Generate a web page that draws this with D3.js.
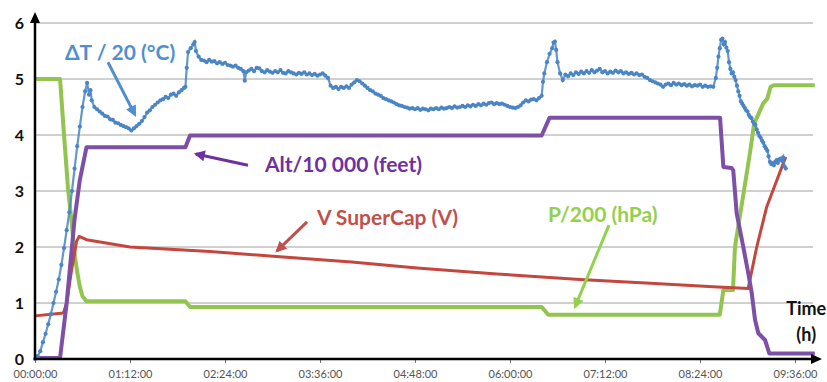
<!DOCTYPE html>
<html>
<head>
<meta charset="utf-8">
<script src="https://cdn.jsdelivr.net/npm/d3@7"></script>
<style>
  html, body { margin: 0; padding: 0; background: #fff; }
  svg { display: block; }
</style>
</head>
<body>
<svg id="chart" width="827" height="382"></svg>
<script>
// ---------- DATA (time in minutes since 00:00:00) ----------
const tickMinutes = [0, 72, 144, 216, 288, 360, 432, 504, 576];
const tickLabels = ["00:00:00","01:12:00","02:24:00","03:36:00","04:48:00","06:00:00","07:12:00","08:24:00","09:36:00"];
const yTicks = [0, 1, 2, 3, 4, 5, 6];

// Alt / 10 000 (feet)
const altSeries = [[0,0.02],[19,0.02],[24,1.0],[30,2.5],[34,3.2],[39,3.78],[114,3.78],[117.5,3.99],[384,3.99],[390,4.31],
  [519.2,4.31],[521.7,3.43],[528,3.41],[529.2,3.37],[531.8,2.6],[536.8,2.0],[540.6,1.53],[543.2,1.18],[545.7,0.70],
  [548.2,0.46],[553.3,0.34],[556.5,0.10],[591,0.10]];

// P / 200 (hPa)
const presSeries = [[0,5.0],[19,5.0],[22,4.0],[25,3.05],[27.5,2.5],[30.3,1.83],[32,1.55],[34,1.29],[36,1.12],[39,1.03],
  [114,1.03],[117.5,0.93],[384,0.93],[389,0.79],[519,0.79],[521.7,1.23],[529,1.23],[530.5,2.0],[537,2.96],[542,3.7],
  [545,4.2],[548,4.36],[552,4.57],[555,4.65],[557.5,4.86],[560,4.89],[591,4.89]];

// V SuperCap (V)
const capSeries = [[0,0.77],[21.5,0.82],[24,1.0],[27.8,1.6],[31.5,2.1],[33.5,2.19],[39,2.13],[72,2.0],[132.6,1.92],
  [183,1.83],[240,1.73],[277,1.65],[292,1.62],[350,1.52],[413,1.42],[470,1.35],[514,1.29],[540.5,1.26],[547,2.0],
  [554.6,2.72],[564.6,3.34],[569,3.61]];

// ΔT / 20 (°C)
const dtSeries = [[0,0.00],[2,0.05],[4,0.14],[6,0.30],[8,0.45],[10,0.62],[12,0.80],[14,1.00],[16,1.20],[18,1.42],
  [20,1.68],[22,1.98],[24,2.30],[26,2.62],[28,3.00],[30,3.40],[32,3.80],[34,4.15],[36,4.50],[38,4.78],[39.5,4.93],
  [41,4.72],[42,4.80],[43,4.62],[45,4.50],[47,4.46],[49,4.42],[51,4.38],[53,4.34],[55,4.33],[57,4.28],[59,4.27],
  [61,4.22],[63,4.21],[65,4.18],[67,4.16],[69,4.14],[71,4.12],[73,4.08],[75,4.12],[77,4.16],[79,4.20],[81,4.25],
  [83,4.32],[85,4.40],[87,4.44],[89,4.50],[91,4.54],[93,4.58],[95,4.62],[97,4.64],[99,4.68],[101,4.66],[103,4.72],
  [105,4.74],[107,4.70],[109,4.76],[111,4.80],[113,4.84],[114,4.86],[115,5.20],[116,5.48],[118,5.55],[120,5.62],
  [121,5.66],[122,5.50],[124,5.40],[126,5.34],[128,5.33],[130,5.30],[132,5.34],[134,5.31],[136,5.32],[138,5.28],
  [140,5.30],[142,5.27],[144,5.29],[146,5.25],[148,5.24],[150,5.22],[152,5.24],[154,5.20],[156,5.18],[158,5.14],
  [159,4.97],[160,5.12],[162,5.15],[164,5.18],[166,5.14],[168,5.20],[170,5.19],[172,5.14],[174,5.12],[176,5.16],
  [178,5.13],[180,5.11],[182,5.14],[184,5.12],[186,5.16],[188,5.11],[190,5.10],[192,5.14],[194,5.12],[196,5.10],
  [198,5.08],[200,5.11],[202,5.09],[204,5.12],[206,5.08],[208,5.10],[210,5.07],[212,5.09],[214,5.06],[216,5.08],
  [218,5.10],[220,5.06],[222,5.02],[224,4.88],[226,4.84],[228,4.86],[230,4.82],[232,4.86],[234,4.84],[236,4.87],
  [238,4.84],[240,4.90],[242,4.94],[244,4.98],[246,4.96],[248,4.92],[250,4.88],[252,4.84],[254,4.80],[256,4.78],
  [258,4.74],[260,4.72],[262,4.70],[264,4.66],[266,4.64],[268,4.62],[270,4.60],[272,4.58],[274,4.55],[276,4.53],
  [278,4.52],[280,4.50],[282,4.49],[284,4.47],[286,4.48],[288,4.46],[290,4.48],[292,4.45],[294,4.47],[296,4.46],
  [298,4.44],[300,4.47],[302,4.46],[304,4.48],[306,4.46],[308,4.49],[310,4.47],[312,4.48],[314,4.50],[316,4.48],
  [318,4.51],[320,4.49],[322,4.50],[324,4.52],[326,4.50],[328,4.53],[330,4.51],[332,4.54],[334,4.52],[336,4.55],
  [338,4.53],[340,4.56],[342,4.54],[344,4.57],[346,4.58],[348,4.55],[350,4.57],[352,4.55],[354,4.56],[356,4.54],
  [358,4.52],[360,4.50],[362,4.49],[364,4.48],[366,4.50],[368,4.53],[370,4.58],[372,4.62],[374,4.60],[376,4.63],
  [378,4.64],[380,4.62],[382,4.66],[384,4.70],[385,4.95],[386,5.10],[388,5.30],[390,5.45],[392,5.55],[393,5.65],
  [394,5.67],[395,5.52],[396,5.30],[398,5.10],[400,4.98],[402,5.08],[404,5.05],[406,5.10],[408,5.07],[410,5.12],
  [412,5.09],[414,5.13],[416,5.10],[418,5.14],[420,5.11],[422,5.16],[424,5.12],[426,5.15],[428,5.18],[430,5.12],
  [432,5.14],[434,5.10],[436,5.13],[438,5.11],[440,5.15],[442,5.12],[444,5.14],[446,5.10],[448,5.12],[450,5.09],
  [452,5.11],[454,5.08],[456,5.10],[458,5.07],[460,5.08],[462,5.04],[464,5.02],[466,4.98],[468,4.96],[470,4.94],
  [472,4.92],[474,4.90],[476,4.86],[478,4.90],[480,4.92],[482,4.89],[484,4.93],[486,4.90],[488,4.92],[490,4.89],
  [492,4.91],[494,4.88],[496,4.90],[498,4.87],[500,4.89],[502,4.88],[504,4.90],[506,4.86],[508,4.88],[510,4.86],
  [512,4.87],[514,4.86],[516,5.02],[517,5.20],[518,5.40],[519,5.55],[520,5.70],[521,5.72],[522,5.62],[523,5.66],
  [524,5.56],[525,5.50],[526,5.30],[527,5.18],[528,5.10],[529,5.12],[530,5.04],[531,4.98],[532,4.88],[533,4.78],
  [534,4.70],[535,4.60],[536,4.56],[537,4.52],[538,4.48],[539,4.44],[540,4.42],[541,4.36],[542,4.32],[543,4.30],
  [544,4.24],[545,4.20],[546,4.18],[547,4.10],[548,4.04],[549,3.98],[550,3.95],[551,3.90],[552,3.86],[553,3.80],
  [554,3.76],[555,3.72],[556,3.62],[557,3.52],[558,3.48],[559,3.50],[560,3.46],[561,3.52],[562,3.55],[563,3.50],
  [564,3.56],[565,3.58],[566,3.54],[567,3.60],[568,3.44],[569,3.40]];

// annotations: [label, textT, textV, arrowFromT, arrowFromV, arrowToT, arrowToV, colour]
const annotations = [
  ["ΔT / 20 (°C)", 22.7, 5.34, 55.3, 5.30, 75.8, 4.36, "#4f8fd0"],
  ["Alt/10 000 (feet)", 174.3, 3.345, 161.4, 3.46, 122, 3.66, "#7030a0"],
  ["V SuperCap (V)", 213.7, 2.39, 206.2, 2.45, 183.4, 1.93, "#c0504d"],
  ["P/200 (hPa)", 388.8, 2.45, 435, 2.39, 409.3, 0.93, "#92d050"]
];

// ---------- CHART ----------
const svg = d3.select("#chart");
const font = "Lato, 'Open Sans', sans-serif";
const x = d3.scaleLinear().domain([0, 576]).range([35, 795]);
const y = d3.scaleLinear().domain([0, 6]).range([359, 23]);

// gridlines
svg.append("g").selectAll("line").data(yTicks.filter(d => d > 0)).join("line")
  .attr("x1", x(0)).attr("x2", 813)
  .attr("y1", d => y(d)).attr("y2", d => y(d))
  .attr("stroke", "#c0c0c0").attr("stroke-width", 1.5);

// y tick labels
svg.append("g").selectAll("text").data(yTicks).join("text")
  .attr("x", 24).attr("y", d => y(d)).attr("dy", "0.36em")
  .attr("text-anchor", "end")
  .attr("font-family", font).attr("font-weight", "bold").attr("font-size", 16)
  .attr("fill", "#111").text(d => d);

// x axis with ticks
const xAxis = d3.axisBottom(x).tickValues(tickMinutes)
  .tickFormat((d, i) => tickLabels[i]).tickSize(4).tickSizeOuter(0);
const gx = svg.append("g").attr("transform", `translate(0,${y(0)})`).call(xAxis);
gx.select(".domain").remove();
gx.selectAll(".tick line").attr("stroke", "#777").attr("stroke-width", 1);
gx.selectAll(".tick text").attr("font-family", font).attr("font-size", 11)
  .attr("fill", "#555").attr("y", 11);

const line = d3.line().x(d => x(d[0])).y(d => y(d[1]));

// series
svg.append("path").datum(presSeries).attr("d", line)
  .attr("fill", "none").attr("stroke", "#92c450").attr("stroke-width", 4).attr("stroke-linejoin", "round");
svg.append("path").datum(capSeries).attr("d", line)
  .attr("fill", "none").attr("stroke", "#c4463f").attr("stroke-width", 3).attr("stroke-linejoin", "round");
svg.append("path").datum(altSeries).attr("d", line)
  .attr("fill", "none").attr("stroke", "#7d4fa6").attr("stroke-width", 4).attr("stroke-linejoin", "round");
svg.append("path").datum(dtSeries).attr("d", line)
  .attr("fill", "none").attr("stroke", "#4a85c5").attr("stroke-width", 2.2).attr("stroke-opacity", 0.85);
svg.append("g").selectAll("circle").data(dtSeries).join("circle")
  .attr("cx", d => x(d[0])).attr("cy", d => y(d[1])).attr("r", 2.1)
  .attr("fill", "#4a85c5");

// axes lines with arrows
svg.append("line").attr("x1", x(0)).attr("x2", x(0)).attr("y1", y(0) + 1).attr("y2", 20)
  .attr("stroke", "#000").attr("stroke-width", 2.5);
svg.append("path").attr("d", `M${x(0)},12 L${x(0) - 5},23 L${x(0) + 5},23 Z`).attr("fill", "#000");
svg.append("line").attr("x1", x(0) - 1).attr("x2", 814).attr("y1", y(0)).attr("y2", y(0))
  .attr("stroke", "#000").attr("stroke-width", 2.5);
svg.append("path").attr("d", `M822,${y(0)} L811,${y(0) - 5} L811,${y(0) + 5} Z`).attr("fill", "#000");

// annotations
const defs = svg.append("defs");
annotations.forEach((a, i) => {
  const id = "arr" + i;
  defs.append("marker").attr("id", id).attr("viewBox", "0 0 10 10")
    .attr("refX", 8).attr("refY", 5).attr("markerUnits", "userSpaceOnUse")
    .attr("markerWidth", 12).attr("markerHeight", 11).attr("orient", "auto")
    .append("path").attr("d", "M0,0 L10,5 L0,10 z").attr("fill", a[7]);
  svg.append("line")
    .attr("x1", x(a[3])).attr("y1", y(a[4])).attr("x2", x(a[5])).attr("y2", y(a[6]))
    .attr("stroke", a[7]).attr("stroke-width", 3).attr("marker-end", `url(#${id})`);
  svg.append("text").attr("x", x(a[1])).attr("y", y(a[2]))
    .attr("font-family", font).attr("font-weight", "bold").attr("font-size", 21)
    .attr("fill", a[7]).text(a[0]);
});

// Time (h)
svg.append("text").attr("x", x(584.5)).attr("y", y(0.79)).attr("text-anchor", "middle")
  .attr("font-family", font).attr("font-weight", "bold").attr("font-size", 18).attr("fill", "#111").text("Time");
svg.append("text").attr("x", x(584.5)).attr("y", y(0.32)).attr("text-anchor", "middle")
  .attr("font-family", font).attr("font-weight", "bold").attr("font-size", 18).attr("fill", "#111").text("(h)");
</script>
</body>
</html>
